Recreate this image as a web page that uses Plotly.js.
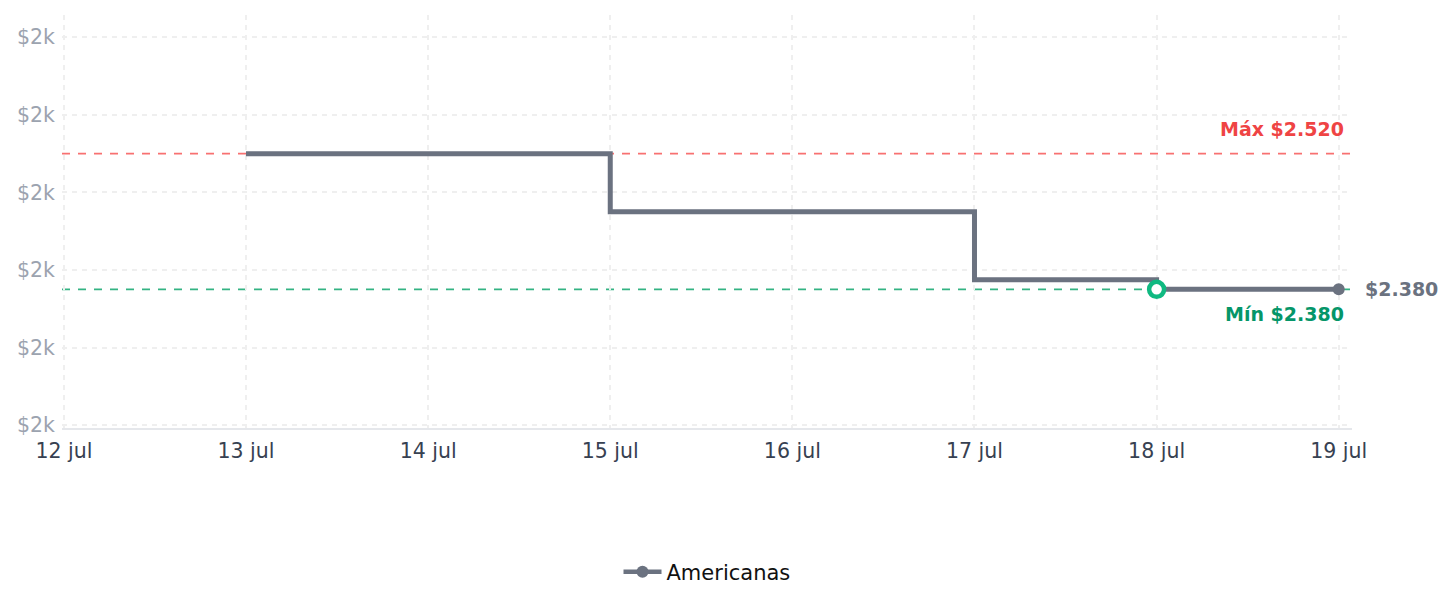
<!DOCTYPE html>
<html>
<head>
<meta charset="utf-8">
<script src="https://cdn.plot.ly/plotly-3.0.1.min.js"></script>
<style>html,body{margin:0;padding:0;background:#fff;}#chart{width:1452px;height:607px;}</style>
</head>
<body>
<div id="chart"></div>
<script>
// Data
const storeName = 'Americanas';
const dates = ['2024-07-13', '2024-07-14', '2024-07-15', '2024-07-16', '2024-07-17', '2024-07-18', '2024-07-19'];
const prices = [2520, 2520, 2460, 2460, 2390, 2380, 2380];
const tickDates = ['2024-07-12', '2024-07-13', '2024-07-14', '2024-07-15', '2024-07-16', '2024-07-17', '2024-07-18', '2024-07-19'];
const tickLabels = ['12 jul', '13 jul', '14 jul', '15 jul', '16 jul', '17 jul', '18 jul', '19 jul'];
const yTicks = [2240, 2320, 2400, 2480, 2560, 2640];
const yTickLabels = ['$2k', '$2k', '$2k', '$2k', '$2k', '$2k'];

const maxP = Math.max(...prices);
const minP = Math.min(...prices);
const minIdx = prices.indexOf(minP);
const lastIdx = prices.length - 1;
const fmt = v => '$' + v.toLocaleString('de-DE');

const gray = '#6b7280';
const traces = [
  {
    x: dates, y: prices, type: 'scatter', mode: 'lines',
    line: {shape: 'hv', color: gray, width: 5},
    showlegend: false, hoverinfo: 'x+y'
  },
  {
    x: [dates[lastIdx]], y: [prices[lastIdx]], type: 'scatter', mode: 'lines+markers',
    name: storeName,
    line: {color: gray, width: 4.5},
    marker: {color: gray, size: 12},
    showlegend: true
  },
  {
    x: [dates[minIdx]], y: [minP], type: 'scatter', mode: 'markers',
    marker: {color: '#ffffff', size: 15, line: {color: '#10b981', width: 4.5}},
    showlegend: false
  }
];

const layout = {
  width: 1452, height: 607,
  margin: {l: 62, r: 100, t: 15, b: 179},
  paper_bgcolor: '#ffffff', plot_bgcolor: '#ffffff',
  font: {family: 'DejaVu Sans, sans-serif'},
  xaxis: {
    type: 'date',
    range: ['2024-07-11 23:45', '2024-07-19 01:45'],
    tickvals: tickDates, ticktext: tickLabels,
    tickfont: {size: 20.5, color: '#374151'},
    showgrid: true, gridcolor: '#efefef', griddash: '5px,5px', gridwidth: 1.5,
    showline: true, linecolor: '#e5e7eb', linewidth: 2,
    zeroline: false, ticks: '', ticklen: 0, ticklabelstandoff: 3
  },
  yaxis: {
    range: [2237, 2663],
    tickvals: yTicks, ticktext: yTickLabels,
    tickfont: {size: 20.5, color: '#9ca3af'},
    showgrid: true, gridcolor: '#efefef', griddash: '5px,5px', gridwidth: 1.5,
    zeroline: false, showline: false, ticks: '', ticklen: 0, ticklabelstandoff: 6
  },
  shapes: [
    {type: 'line', xref: 'paper', x0: 0, x1: 1, yref: 'y', y0: maxP, y1: maxP,
     line: {color: '#f87171', width: 1.8, dash: '8px,8px'}, layer: 'below'},
    {type: 'line', xref: 'paper', x0: 0, x1: 1, yref: 'y', y0: minP, y1: minP,
     line: {color: '#34b383', width: 1.8, dash: '8px,8px'}, layer: 'below'}
  ],
  annotations: [
    {xref: 'paper', x: 1, xanchor: 'right', xshift: -6, yref: 'y', y: maxP, yanchor: 'bottom', yshift: 12,
     text: '<b>Máx ' + fmt(maxP) + '</b>', showarrow: false, font: {size: 19, color: '#ef4444'}},
    {xref: 'paper', x: 1, xanchor: 'right', xshift: -6, yref: 'y', y: minP, yanchor: 'top', yshift: -12,
     text: '<b>Mín ' + fmt(minP) + '</b>', showarrow: false, font: {size: 19, color: '#059669'}},
    {xref: 'x', x: dates[lastIdx], xanchor: 'left', xshift: 24, yref: 'y', y: prices[lastIdx], yanchor: 'middle',
     text: '<b>' + fmt(prices[lastIdx]) + '</b>', showarrow: false, font: {size: 19, color: gray}}
  ],
  legend: {
    orientation: 'h', x: 0.5, xanchor: 'center', y: -0.3487, yanchor: 'middle',
    itemwidth: 38,
    font: {size: 21, color: '#111111'}
  },
  hovermode: 'closest'
};

Plotly.newPlot('chart', traces, layout, {displayModeBar: false, responsive: false});
</script>
</body>
</html>
